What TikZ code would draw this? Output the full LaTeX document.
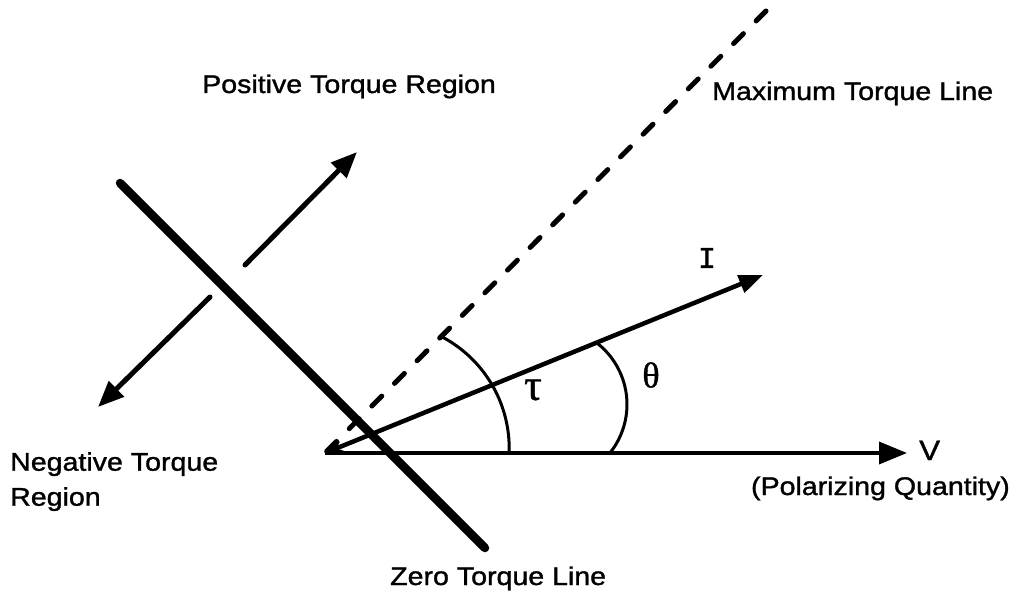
\documentclass[tikz,border=0pt]{standalone}
\usepackage{fontspec}
\usetikzlibrary{arrows.meta}
\newfontfamily\lab[FakeStretch=1.12,FakeBold=1.3]{Liberation Sans}
\newfontfamily\monofnt[FakeBold=1]{Liberation Mono}
\newfontfamily\grk[FakeBold=1]{Liberation Serif}
\tikzset{
  lbl/.style={inner sep=0pt, font=\lab\fontsize{25.5}{35}\selectfont},
  vec/.style={line width=3.6pt},
  ivec/.style={line width=4.5pt},
  zeroline/.style={line width=8.5pt, line cap=round},
  maxline/.style={line width=5pt, line cap=round, dash pattern=on 14pt off 18pt},
  torq/.style={line width=5pt, line cap=round},
  anglearc/.style={line width=3pt},
  bigtip/.style={-{Triangle[length=26pt,width=21pt]}},
}
\begin{document}
\begin{tikzpicture}[x=1pt,y=-1pt]
\useasboundingbox (0,0) rectangle (1016,599);
% key points
\coordinate (O) at (325,453);
\coordinate (Vend) at (907,453);
\coordinate (Iend) at (763,275);
\coordinate (Mtop) at (766,11);
\coordinate (Ztop) at (120,183);
\coordinate (Zbot) at (485,548);
\coordinate (Pstart) at (245,265);
\coordinate (Pend) at (357,152);
\coordinate (Nstart) at (210,297);
\coordinate (Nend) at (98,407);
\coordinate (Tc) at (383.2,448.3);
\coordinate (Hc) at (549.3,404.4);

% lines
\draw[maxline] (Mtop) -- (O);
\draw[vec, -{Triangle[length=28pt,width=22pt]}] (O) -- (Vend);
\draw[ivec, {Stealth[length=18pt,width=10pt]}-{Triangle[length=24pt,width=18pt]}] (O) -- (Iend);
\draw[zeroline] (Ztop) -- (Zbot);
\draw[torq, bigtip] (Pstart) -- (Pend);
\draw[torq, bigtip] (Nstart) -- (Nend);

% angle arcs
\draw[anglearc] (Tc) ++(-2.1:126pt) arc[start angle=-2.1, end angle=62.2, radius=126pt];
\draw[anglearc] (Hc) ++(-38.7:77.7pt) arc[start angle=-38.7, end angle=52.2, radius=77.7pt];

% labels
\node[lbl, anchor=base west] (pos) at (202,93) {Positive Torque Region};
\node[lbl, anchor=base west] (max) at (712,100) {Maximum Torque Line};
\node[lbl, anchor=north west, align=left] (neg) at (10,452) {Negative Torque\\Region};
\node[lbl, anchor=base west] (zero) at (390,585) {Zero Torque Line};
\node[lbl, anchor=base east] (pol) at (1010,495) {(Polarizing Quantity)};
\node[inner sep=0pt, anchor=base west, font=\lab\fontsize{28}{30}\selectfont] (V) at (919,460) {V};
\node[inner sep=0pt, font=\monofnt\fontsize{30}{32}\selectfont] (I) at (707,258) {I};
\node[inner sep=0pt, font=\grk\fontsize{44}{46}\selectfont] (tau) at (533,390) {τ};
\node[inner sep=0pt, font=\grk\fontsize{36}{38}\selectfont] (theta) at (651,375) {θ};
\end{tikzpicture}
\end{document}
